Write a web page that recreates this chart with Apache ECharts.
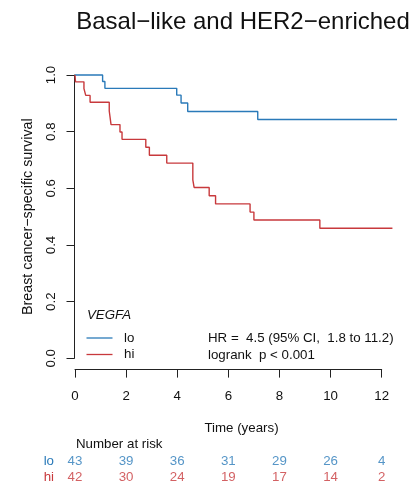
<!DOCTYPE html>
<html>
<head>
<meta charset="utf-8">
<script src="https://cdn.jsdelivr.net/npm/echarts@6/dist/echarts.min.js"></script>
<style>html,body{margin:0;padding:0;background:#fff}#c{width:413px;height:492px}</style>
</head>
<body>
<div id="c"></div>
<script>
// ---- data ----
var loTimes = [0, 1.08, 1.17, 3.98, 4.15, 4.41, 7.15, 12.6];
var loSurv  = [1, 0.977, 0.953, 0.929, 0.901, 0.871, 0.843, 0.843];
var hiTimes = [0, 0.02, 0.35, 0.42, 0.59, 1.34, 1.41, 1.76, 1.84, 2.77, 2.91, 3.59, 4.61, 4.66, 5.25, 5.5, 6.85, 7.0, 9.58, 12.42];
var hiSurv  = [1, 0.976, 0.952, 0.928, 0.904, 0.873, 0.825, 0.799, 0.773, 0.745, 0.717, 0.689, 0.630, 0.603, 0.574, 0.545, 0.516, 0.488, 0.459, 0.459];
var riskTimes = [0, 2, 4, 6, 8, 10, 12];
var riskLo = [43, 39, 36, 31, 29, 26, 4];
var riskHi = [42, 30, 24, 19, 17, 14, 2];
var groups = ['lo', 'hi'];
var geneName = 'VEGFA';
var titleText = 'Basal\u2212like and HER2\u2212enriched';
var statLines = ['HR =  4.5 (95% CI,  1.8 to 11.2)', 'logrank  p < 0.001'];

var BLUE = '#2a7ab9', RED = '#c8393c', FONT = 'Liberation Sans, Arial, sans-serif', AX = '#222', TXT = '#111';
function zip(a, b) { return a.map(function (v, i) { return [v, b[i]]; }); }
function txt(s, x, y, align, size, extra) {
  var st = { text: s, x: x, y: y, textAlign: align, textVerticalAlign: 'middle',
    font: (extra && extra.italic ? 'italic ' : '') + size + 'px ' + FONT, fill: (extra && extra.fill) || TXT };
  return { type: 'text', silent: true, style: st };
}

var chart = echarts.init(document.getElementById('c'), null, { renderer: 'canvas' });
var plotL = 75, plotW = 306.7, tMax = 13;
chart.setOption({
  animation: false,
  color: [BLUE, RED],
  textStyle: { fontFamily: FONT },
  graphic: [
    txt(titleText, 243, 22, 'center', 24),
    txt(geneName, 87, 315.5, 'left', 13.3, { italic: true }),
    txt(statLines[0], 208, 338.3, 'left', 13.3),
    txt(statLines[1], 208, 355, 'left', 13.3),
    txt('Time (years)', 241.5, 428.3, 'center', 13.3),
    txt('Number at risk', 76, 444, 'left', 13.3)
  ],
  legend: {
    data: groups, orient: 'vertical', left: 86.5, top: 331.5, padding: 0, icon: 'rect',
    itemWidth: 26, itemHeight: 1.3, itemGap: 3.5,
    textStyle: { fontFamily: FONT, fontSize: 13.3, color: TXT, padding: [0, 0, 0, 6.5] },
    selectedMode: false
  },
  grid: [
    { left: plotL, width: plotW * tMax / 12, top: 63.7, height: 305.9 },
    { left: 74.5, width: plotW, top: 75, height: 283.3 },
    { left: plotL, width: plotW, top: 454, height: 31.2 },
    { left: plotL, width: plotW, top: 63.7, height: 305.9 }
  ],
  xAxis: [
    { gridIndex: 0, type: 'value', min: 0, max: tMax, show: false },
    { gridIndex: 1, type: 'value', min: 0, max: 12, show: false },
    { gridIndex: 2, type: 'value', min: 0, max: 12, show: false },
    { gridIndex: 3, type: 'value', min: 0, max: 12, interval: 2,
      axisLine: { lineStyle: { color: AX, width: 1 } },
      axisTick: { length: 8, lineStyle: { color: AX } },
      axisLabel: { margin: 20, fontSize: 13.3, color: TXT, fontFamily: FONT },
      splitLine: { show: false } }
  ],
  yAxis: [
    { gridIndex: 0, type: 'value', min: -0.04, max: 1.04, show: false },
    { gridIndex: 1, type: 'value', min: 0, max: 1, interval: 0.2,
      name: 'Breast cancer\u2212specific survival', nameLocation: 'middle', nameGap: 39, nameRotate: 90,
      nameTextStyle: { fontFamily: FONT, fontSize: 14.3, color: TXT },
      axisLine: { show: true, lineStyle: { color: AX, width: 1 } },
      axisTick: { show: true, length: 8, lineStyle: { color: AX } },
      axisLabel: { rotate: 90, margin: 17, fontSize: 13.3, color: TXT, fontFamily: FONT,
        formatter: function (v) { return v.toFixed(1); } },
      splitLine: { show: false } },
    { gridIndex: 2, type: 'category', data: ['hi', 'lo'],
      axisLine: { show: false }, axisTick: { show: false },
      axisLabel: { interval: 0, margin: 21, fontSize: 13.3, fontFamily: FONT,
        color: function (v) { return v === 'lo' ? BLUE : RED; } } },
    { gridIndex: 3, type: 'value', min: 0, max: 1, show: false }
  ],
  series: [
    { name: 'lo', type: 'line', xAxisIndex: 0, yAxisIndex: 0, step: 'end', showSymbol: false,
      lineStyle: { width: 1.4, color: BLUE }, itemStyle: { color: BLUE }, data: zip(loTimes, loSurv) },
    { name: 'hi', type: 'line', xAxisIndex: 0, yAxisIndex: 0, step: 'end', showSymbol: false,
      lineStyle: { width: 1.4, color: RED }, itemStyle: { color: RED }, data: zip(hiTimes, hiSurv) },
    { name: 'risk-lo', type: 'scatter', xAxisIndex: 2, yAxisIndex: 2, symbolSize: 0, silent: true,
      itemStyle: { color: 'rgba(0,0,0,0)' },
      label: { show: true, position: 'inside', color: BLUE, fontSize: 13.3, fontFamily: FONT,
        formatter: function (p) { return String(p.value[2]); } },
      data: riskTimes.map(function (t, i) { return [t, 1, riskLo[i]]; }) },
    { name: 'risk-hi', type: 'scatter', xAxisIndex: 2, yAxisIndex: 2, symbolSize: 0, silent: true,
      itemStyle: { color: 'rgba(0,0,0,0)' },
      label: { show: true, position: 'inside', color: RED, fontSize: 13.3, fontFamily: FONT,
        formatter: function (p) { return String(p.value[2]); } },
      data: riskTimes.map(function (t, i) { return [t, 0, riskHi[i]]; }) }
  ]
});
</script>
</body>
</html>
